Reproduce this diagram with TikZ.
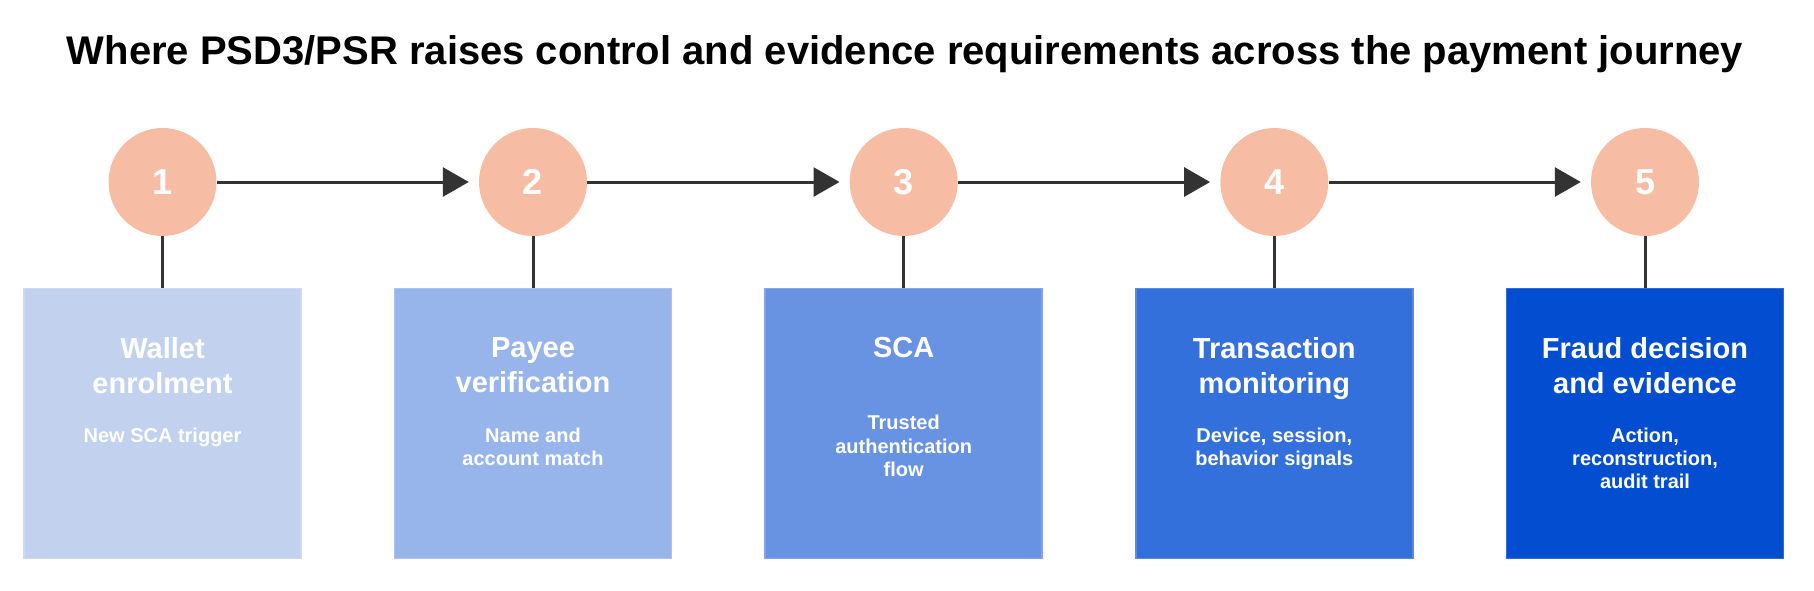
\documentclass[tikz,border=0pt]{standalone}
\usepackage{fontspec}
\setmainfont{Liberation Sans}
\usepackage{tikz}
\usetikzlibrary{arrows.meta,positioning}
\definecolor{peach}{HTML}{F7BDA4}
\definecolor{ink}{HTML}{333333}
\definecolor{blueA}{HTML}{C1D1EE}
\definecolor{blueB}{HTML}{97B5EA}
\definecolor{blueC}{HTML}{6892E2}
\definecolor{blueD}{HTML}{3470DC}
\definecolor{blueE}{HTML}{024DD0}
\begin{document}
\begin{tikzpicture}
    [x=1pt,y=-1pt,
     stepdot/.style={shape=circle,fill=peach,text=white,minimum size=108pt,inner sep=0pt,
       font=\fontsize{36}{36}\selectfont\bfseries},
     card/.style={shape=rectangle,fill=#1,draw=#1!82!white,line width=1.5pt,
       minimum width=277pt,minimum height=270pt,inner sep=0pt,anchor=north},
     head/.style={text=white,align=center,anchor=north,inner sep=0pt,
       font=\fontsize{29}{35.5}\selectfont\bfseries},
     note/.style={text=white,align=center,anchor=north,inner sep=0pt,
       font=\fontsize{20}{23.3}\selectfont\bfseries},
     post/.style={-{Triangle[length=26pt,width=29pt]},shorten >=10pt,line width=3pt,draw=ink},
     stem/.style={line width=3pt,draw=ink}]
    \useasboundingbox (0,0) rectangle (1814,590);
    \node (title) at (905,64) [anchor=base,font=\fontsize{40}{40}\selectfont\bfseries]
      {Where PSD3/PSR raises control and evidence requirements across the payment journey};
    % steps
    \node [stepdot] (s1) at (162.5,182) {1};
    \node [stepdot] (s2) at (533,182) {2};
    \node [stepdot] (s3) at (903.7,182) {3};
    \node [stepdot] (s4) at (1274.3,182) {4};
    \node [stepdot] (s5) at (1645,182) {5};
    \draw [post] (s1) -- (s2);
    \draw [post] (s2) -- (s3);
    \draw [post] (s3) -- (s4);
    \draw [post] (s4) -- (s5);
    % cards
    \node [card=blueA] (c1) at (162.5,287.5) {};
    \node [card=blueB] (c2) at (533,287.5) {};
    \node [card=blueC] (c3) at (903.7,287.5) {};
    \node [card=blueD] (c4) at (1274.3,287.5) {};
    \node [card=blueE] (c5) at (1645,287.5) {};
    \foreach \i in {1,...,5}
      \draw [stem] (s\i) -- (c\i);
    \node [head] (h1) at ([yshift=-49.5pt]c1.north) {Wallet\\enrolment};
    \node [note] (n1) at ([yshift=-140pt]c1.north) {New SCA trigger};
    \node [head] (h2) at ([yshift=-49.5pt]c2.north) {Payee\\verification};
    \node [note] (n2) at ([yshift=-140pt]c2.north) {Name and\\account match};
    \node [head] (h3) at ([yshift=-49.5pt]c3.north) {SCA};
    \node [note] (n3) at ([yshift=-127.5pt]c3.north) {Trusted\\authentication\\flow};
    \node [head] (h4) at ([yshift=-49.5pt]c4.north) {Transaction\\monitoring};
    \node [note] (n4) at ([yshift=-140pt]c4.north) {Device, session,\\behavior signals};
    \node [head] (h5) at ([yshift=-49.5pt]c5.north) {Fraud decision\\and evidence};
    \node [note] (n5) at ([yshift=-140pt]c5.north) {Action,\\reconstruction,\\audit trail};
\end{tikzpicture}
\end{document}
